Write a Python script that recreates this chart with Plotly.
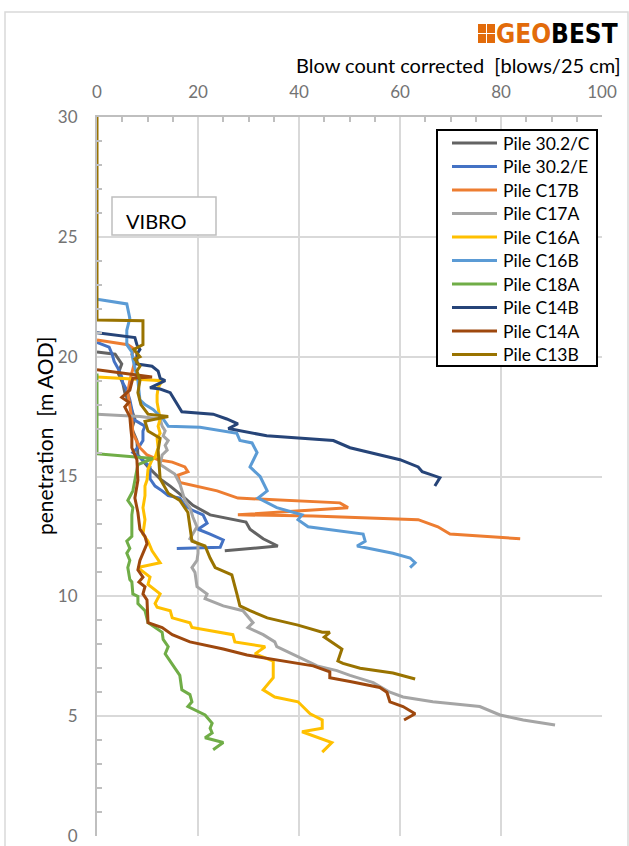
import plotly.graph_objects as go

# Blow count series (x: blows/25 cm, y: penetration level m AOD)
names = ["Pile 30.2/C", "Pile 30.2/E", "Pile C17B", "Pile C17A", "Pile C16A",
         "Pile C16B", "Pile C18A", "Pile C14B", "Pile C14A", "Pile C13B"]
colors = ["#636363", "#4472c4", "#ed7d31", "#a5a5a5", "#ffc000",
          "#5b9bd5", "#70ad47", "#264478", "#9e480e", "#997300"]

p302c_x = [0, 3.6, 4.9, 4.2, 5.1, 5.5, 6.5, 7.5, 6.9, 7.9, 8.1, 10.1, 12.5, 14.5, 17.4, 19.0, 22.4, 29.5, 30.3, 32.9, 35.8, 25.3]
p302c_y = [20.2, 20.1, 19.7, 19.3, 18.9, 18.5, 18.0, 17.4, 17.0, 16.5, 15.9, 15.4, 14.9, 14.6, 14.1, 13.8, 13.4, 13.1, 12.8, 12.4, 12.1, 11.9]

p302e_x = [0, 2.4, 3.0, 3.4, 4.2, 4.9, 5.1, 5.9, 6.5, 6.9, 7.1, 9.5, 9.1, 9.1, 8.5, 7.1, 8.5, 10.5, 10.5, 11.5, 12.9, 14.1, 16.4, 17.4, 18.8, 21.0, 21.8, 20.0, 22.4, 25.0, 24.4, 15.8]
p302e_y = [20.6, 20.4, 20.1, 19.8, 19.5, 19.15, 18.9, 18.6, 18.2, 17.8, 17.4, 17.1, 16.9, 16.5, 16.3, 16.0, 15.8, 15.4, 14.9, 14.6, 14.4, 14.2, 14.1, 13.8, 13.6, 13.4, 13.05, 12.8, 12.6, 12.35, 12.05, 12.0]

c17b_x = [0, 6.1, 7.5, 6.9, 7.5, 6.5, 6.1, 6.5, 6.9, 7.1, 8.5, 9.9, 12.1, 14.9, 17.4, 18.0, 16.0, 16.4, 23.8, 27.9, 32.9, 40.8, 48.1, 49.7, 35.6, 27.9, 42.8, 63.6, 67.5, 69.9, 83.8]
c17b_y = [20.7, 20.5, 20.3, 20.1, 19.8, 19.0, 18.5, 17.9, 17.4, 16.8, 16.2, 15.9, 15.7, 15.6, 15.4, 15.2, 15.05, 14.75, 14.4, 14.1, 14.05, 13.95, 13.9, 13.7, 13.5, 13.4, 13.35, 13.2, 12.9, 12.6, 12.4]

c17a_x = [0, 8.5, 12.5, 12.9, 13.5, 13.1, 14.1, 13.5, 13.9, 12.9, 12.5, 14.5, 15.4, 16.4, 16.8, 17.4, 18.4, 19.0, 19.8, 18.4, 20.0, 20.0, 19.8, 18.8, 19.4, 19.8, 21.8, 21.4, 25.0, 28.9, 30.9, 29.9, 32.9, 35.2, 35.6, 39.6, 43.6, 47.5, 50.1, 54.7, 58.0, 60.6, 66.5, 75.8, 79.8, 84.4, 90.7]
c17a_y = [17.6, 17.5, 17.4, 17.1, 16.9, 16.7, 16.5, 16.3, 16.1, 15.9, 15.5, 15.2, 15.1, 14.7, 14.4, 14.0, 13.7, 13.3, 12.9, 12.4, 12.2, 11.8, 11.5, 11.2, 11.0, 10.4, 10.1, 9.9, 9.6, 9.4, 8.9, 8.7, 8.4, 8.1, 7.9, 7.5, 7.1, 6.9, 6.7, 6.4, 6.0, 5.8, 5.6, 5.4, 5.05, 4.84, 4.63]

c16a_x = [0, 12.9, 12.1, 11.9, 11.9, 12.1, 12.5, 12.1, 12.5, 11.9, 12.1, 11.5, 10.9, 10.1, 9.9, 9.5, 9.5, 9.1, 9.5, 9.1, 10.1, 10.9, 12.5, 8.1, 10.5, 10.1, 12.5, 11.5, 11.9, 14.5, 14.9, 18.4, 18.8, 26.9, 27.3, 33.3, 31.3, 34.9, 34.9, 32.9, 35.2, 39.8, 42.2, 44.6, 44.6, 40.6, 46.5, 44.6]
c16a_y = [19.15, 19.0, 18.7, 18.4, 18.1, 17.8, 17.4, 17.1, 16.8, 16.6, 16.2, 15.8, 15.7, 15.3, 14.85, 14.6, 14.2, 13.7, 13.2, 12.6, 12.3, 11.9, 11.4, 11.2, 10.8, 10.5, 10.1, 9.7, 9.55, 9.4, 9.1, 8.9, 8.7, 8.4, 8.1, 7.9, 7.6, 7.3, 6.6, 6.1, 5.8, 5.6, 5.1, 4.84, 4.5, 4.35, 3.9, 3.5]

c16b_x = [0, 5.9, 6.5, 5.9, 5.9, 6.9, 7.1, 8.1, 8.5, 9.5, 11.1, 13.1, 14.1, 20.4, 27.7, 28.3, 30.7, 31.7, 30.3, 32.3, 33.7, 31.9, 35.6, 40.6, 39.8, 41.8, 52.7, 53.1, 51.5, 58.6, 62.0, 63.0, 62.0]
c16b_y = [22.4, 22.2, 21.6, 21.1, 20.5, 20.2, 19.9, 19.0, 18.2, 18.0, 17.8, 17.4, 17.1, 17.05, 16.8, 16.5, 16.4, 16.0, 15.4, 15.0, 14.4, 14.1, 13.7, 13.4, 13.2, 12.9, 12.6, 12.3, 12.1, 11.8, 11.6, 11.4, 11.2]

c18a_x = [0, 0, 11.1, 8.1, 7.1, 6.1, 7.1, 6.9, 6.9, 5.9, 6.5, 5.9, 6.5, 6.1, 6.5, 6.9, 7.1, 8.1, 8.1, 9.5, 10.1, 12.9, 13.1, 14.1, 13.5, 14.5, 16.4, 16.8, 18.4, 18.8, 18.0, 21.4, 22.8, 22.4, 22.8, 21.4, 25.0, 23.0]
c18a_y = [19.3, 15.95, 15.75, 15.5, 14.4, 14.0, 13.7, 13.4, 12.5, 12.3, 12.0, 11.8, 11.5, 11.2, 10.7, 10.6, 10.1, 10.0, 9.7, 9.4, 8.9, 8.5, 8.2, 7.9, 7.6, 7.3, 6.7, 6.1, 5.9, 5.6, 5.4, 5.05, 4.7, 4.5, 4.3, 4.1, 3.9, 3.6]

c14b_x = [0, 7.5, 7.9, 8.5, 7.9, 7.9, 10.9, 12.1, 12.5, 13.5, 10.5, 12.5, 14.5, 16.8, 23.0, 25.7, 27.9, 26.0, 33.6, 46.8, 50.1, 60.0, 63.6, 64.4, 67.9, 66.9]
c14b_y = [21.0, 20.8, 20.5, 20.3, 20.1, 19.7, 19.6, 19.4, 19.1, 19.0, 18.7, 18.65, 18.5, 17.7, 17.6, 17.4, 17.2, 17.0, 16.7, 16.5, 16.2, 15.7, 15.4, 15.2, 14.95, 14.6]

c14a_x = [0, 10.9, 7.1, 6.5, 4.9, 6.3, 5.5, 6.5, 6.7, 6.9, 6.9, 7.9, 8.1, 7.5, 8.1, 8.5, 9.5, 9.9, 8.5, 8.1, 9.1, 8.3, 9.5, 9.1, 9.9, 10.1, 12.9, 14.9, 18.4, 25.0, 29.7, 34.3, 42.8, 46.1, 46.1, 50.1, 56.0, 57.4, 58.0, 60.6, 63.0, 60.8]
c14a_y = [19.45, 19.15, 19.1, 18.6, 18.3, 18.1, 17.9, 17.5, 17.0, 16.6, 16.2, 15.7, 14.85, 14.1, 13.5, 12.8, 12.5, 12.2, 11.5, 11.1, 10.8, 10.6, 10.4, 10.1, 9.85, 8.9, 8.7, 8.4, 8.1, 7.8, 7.55, 7.4, 7.1, 6.85, 6.6, 6.45, 6.2, 6.0, 5.6, 5.4, 5.1, 4.84]

c13b_x = [0, 0, 9.1, 9.1, 7.3, 8.5, 7.5, 8.5, 7.9, 8.5, 8.1, 8.7, 10.1, 14.1, 9.5, 10.1, 12.5, 12.1, 12.5, 14.1, 16.4, 18.0, 18.4, 18.8, 21.4, 22.4, 23.4, 26.7, 27.7, 28.3, 30.3, 33.7, 39.8, 44.6, 46.1, 45.0, 48.5, 47.7, 48.7, 52.1, 58.6, 63.0]
c13b_y = [30, 21.53, 21.5, 20.5, 20.3, 20.0, 19.9, 19.6, 19.4, 19.0, 18.5, 18.0, 17.6, 17.5, 17.3, 16.9, 16.6, 16.1, 14.9, 14.3, 14.0, 13.5, 12.9, 12.3, 12.1, 11.6, 11.2, 10.9, 10.1, 9.6, 9.4, 9.1, 8.8, 8.5, 8.5, 8.3, 7.8, 7.3, 7.2, 7.0, 6.8, 6.55]

series_x = [p302c_x, p302e_x, c17b_x, c17a_x, c16a_x, c16b_x, c18a_x, c14b_x, c14a_x, c13b_x]
series_y = [p302c_y, p302e_y, c17b_y, c17a_y, c16a_y, c16b_y, c18a_y, c14b_y, c14a_y, c13b_y]

# Page geometry (pixels) used to place decorations in paper coordinates
W, H = 629, 846
L, R, T, B = 97, 602, 117, 836


def px_x(px):
    return (px - L) / (R - L)


def px_y(py):
    return (B - py) / (B - T)


FONT = "Lato"
GRID = "#d9d9d9"

fig = go.Figure()
for nm, col, xs, ys in zip(names, colors, series_x, series_y):
    fig.add_trace(go.Scatter(x=xs, y=ys, mode="lines", name=nm,
                             line=dict(color=col, width=3), showlegend=False))

shapes = []
annotations = []

# outer chart frame
shapes.append(dict(type="rect", xref="paper", yref="paper",
                   x0=px_x(5), x1=px_x(628), y0=px_y(860), y1=px_y(12),
                   line=dict(color=GRID, width=1.5), layer="below"))

# legend box with line samples
lx0, lx1, ly0, ly1 = 437, 597, 130, 366
shapes.append(dict(type="rect", xref="paper", yref="paper",
                   x0=px_x(lx0), x1=px_x(lx1), y0=px_y(ly1), y1=px_y(ly0),
                   line=dict(color="black", width=2), fillcolor="white"))
for i, (nm, col) in enumerate(zip(names, colors)):
    yc = 143 + i * 23.5
    shapes.append(dict(type="line", xref="paper", yref="paper",
                       x0=px_x(452), x1=px_x(497), y0=px_y(yc), y1=px_y(yc),
                       line=dict(color=col, width=3)))
    annotations.append(dict(text=nm, xref="paper", yref="paper",
                            x=px_x(501), y=px_y(yc), xanchor="left", yanchor="middle",
                            showarrow=False, font=dict(family=FONT, size=17.5, color="black")))

# VIBRO label box
shapes.append(dict(type="rect", xref="paper", yref="paper",
                   x0=px_x(112), x1=px_x(216), y0=px_y(235), y1=px_y(197),
                   line=dict(color="#bfbfbf", width=1.5), fillcolor="white"))
annotations.append(dict(text="VIBRO", xref="paper", yref="paper",
                        x=px_x(124), y=px_y(221), xanchor="left", yanchor="middle",
                        showarrow=False, font=dict(family=FONT, size=20, color="black")))

# axis titles
annotations.append(dict(text="Blow count corrected  [blows/25 cm]", xref="paper", yref="paper",
                        x=px_x(623), y=px_y(65), xanchor="right", yanchor="middle",
                        showarrow=False, font=dict(family=FONT, size=20, color="black")))
annotations.append(dict(text="penetration  [m AOD]", xref="paper", yref="paper",
                        x=px_x(44), y=px_y(436), xanchor="center", yanchor="middle",
                        textangle=-90, showarrow=False,
                        font=dict(family=FONT, size=21, color="black")))

# GEOBEST logo: 2x2 block icon and wordmark
LOGO = "#e26b0a"
for cx in (0, 1):
    for cy in (0, 1):
        x0 = 478 + cx * 9
        y0 = 24 + cy * 10
        shapes.append(dict(type="rect", xref="paper", yref="paper",
                           x0=px_x(x0), x1=px_x(x0 + 8), y0=px_y(y0 + 9), y1=px_y(y0),
                           line=dict(width=0), fillcolor=LOGO))
annotations.append(dict(text=f"<b><span style='color:{LOGO}'>GEO</span>BEST</b>",
                        xref="paper", yref="paper", x=px_x(620), y=px_y(34),
                        xanchor="right", yanchor="middle", showarrow=False,
                        font=dict(family="DejaVu Sans Condensed", size=26, color="black")))

fig.update_layout(
    width=W, height=H,
    margin=dict(l=L, r=W - R, t=T, b=H - B, pad=0),
    paper_bgcolor="white", plot_bgcolor="white",
    showlegend=False,
    shapes=shapes, annotations=annotations,
    xaxis=dict(range=[0, 100], side="top", dtick=20, tick0=0, automargin=False,
               showgrid=True, gridcolor=GRID, gridwidth=2,
               showline=True, linecolor="#bfbfbf", linewidth=2,
               ticks="", ticklabelstandoff=10, zeroline=False,
               tickfont=dict(family=FONT, size=17, color="#737373"),
               minor=dict(dtick=5, ticks="inside", ticklen=5, tickcolor="#bfbfbf",
                          tickwidth=1.5, showgrid=False)),
    yaxis=dict(range=[0, 30], dtick=5, tick0=0, automargin=False,
               showgrid=True, gridcolor=GRID, gridwidth=2,
               showline=True, linecolor="#bfbfbf", linewidth=2,
               ticks="", ticklabelstandoff=14, zeroline=False,
               tickfont=dict(family=FONT, size=17, color="#737373"),
               minor=dict(dtick=1, ticks="inside", ticklen=5, tickcolor="#bfbfbf",
                          tickwidth=1.5, showgrid=False)),
)

fig.write_html("out.html")
